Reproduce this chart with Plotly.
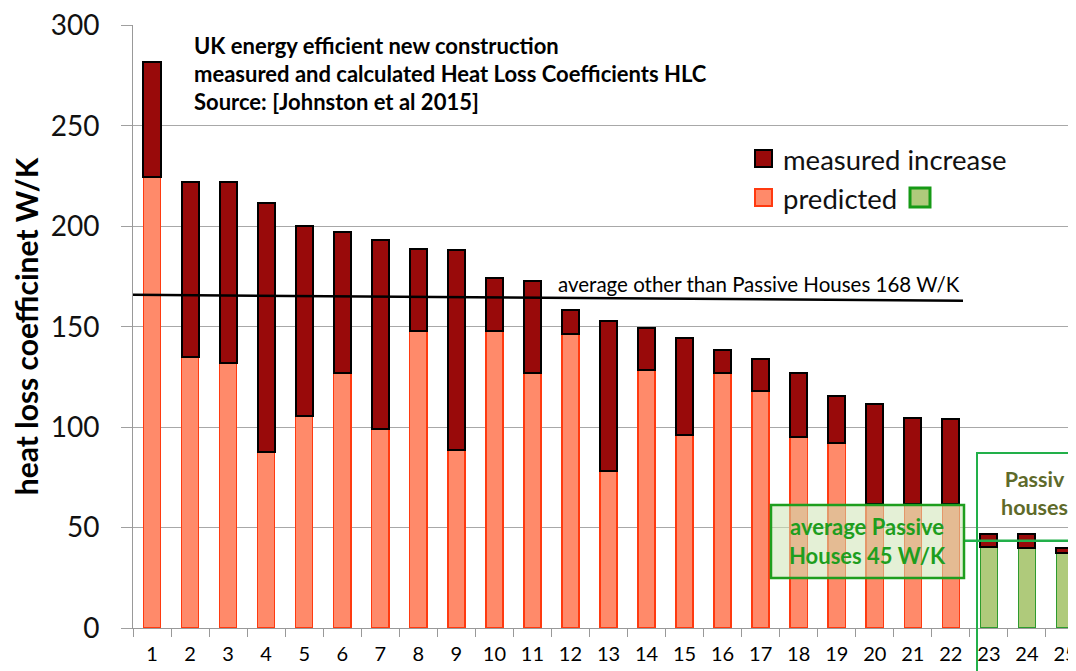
import plotly.graph_objects as go

categories = [str(i) for i in range(1, 26)]
total_measured = [281.7, 221.8, 221.8, 211.6, 200.1, 197.3, 193.3, 188.9, 188.4, 174.1,
                  173.0, 158.4, 153.0, 149.2, 144.2, 138.2, 133.8, 127.0, 115.6, 111.4,
                  104.6, 104.2, 47.0, 47.0, 39.7]
predicted = [224.3, 134.8, 131.8, 87.8, 105.5, 126.8, 99.0, 147.9, 88.6, 147.9,
             127.2, 146.4, 78.1, 128.5, 96.0, 127.2, 117.9, 95.0, 92.0, 61.9,
             61.9, 61.9, 40.4, 39.7, 37.4]
is_passive = [False] * 22 + [True] * 3
increase = [round(t - p, 1) for t, p in zip(total_measured, predicted)]
y_ticks = [0, 50, 100, 150, 200, 250, 300]

FONT = "Lato"
pred_fill = ["#AFCA7B" if p else "#FF8A6A" for p in is_passive]
pred_line = ["#2E9B2E" if p else "#FF3A10" for p in is_passive]

fig = go.Figure()
fig.add_trace(go.Bar(x=categories, y=predicted, name="predicted",
                     marker=dict(color=pred_fill, line=dict(color=pred_line, width=1.5))))
fig.add_trace(go.Bar(x=categories, y=increase, name="measured increase",
                     marker=dict(color="#990A0A", line=dict(color="#000000", width=2))))

# the page body adds an 8px offset; figure is sized to fill the window from there
OFF = 8
W, H = 1076 - OFF, 671 - OFF
PL, PT, PB = 133, 25, 628          # plot area in page pixels
L, T, B = PL - OFF, PT - OFF, (671 - PB)
pw, ph = 1076 - PL, PB - PT

def px(x):
    return (x - PL) / pw

def py(y):
    return (PB - y) / ph

shapes = []
annotations = []

# Title
for i, line in enumerate(["UK energy efficient new construction",
                          "measured and calculated Heat Loss Coefficients HLC",
                          "Source: [Johnston et al 2015]"]):
    annotations.append(dict(xref="paper", yref="paper", x=px(192), y=py(46 + 28 * i),
                            xanchor="left", yanchor="middle", showarrow=False,
                            text="<b>%s</b>" % line,
                            font=dict(family=FONT, size=22, color="#000000")))

# Legend
shapes.append(dict(type="rect", xref="paper", yref="paper", x0=px(755), x1=px(772), y0=py(167), y1=py(150),
                   fillcolor="#990A0A", line=dict(color="#000000", width=2)))
shapes.append(dict(type="rect", xref="paper", yref="paper", x0=px(755), x1=px(772), y0=py(206), y1=py(189),
                   fillcolor="#FF8A6A", line=dict(color="#FF3A10", width=2)))
shapes.append(dict(type="rect", xref="paper", yref="paper", x0=px(910), x1=px(930), y0=py(207), y1=py(188),
                   fillcolor="#AFCA7B", line=dict(color="#169A16", width=3)))
annotations.append(dict(xref="paper", yref="paper", x=px(781), y=py(159), xanchor="left", yanchor="middle",
                        showarrow=False, text="measured increase",
                        font=dict(family=FONT, size=27.5, color="#111111")))
annotations.append(dict(xref="paper", yref="paper", x=px(781), y=py(198), xanchor="left", yanchor="middle",
                        showarrow=False, text="predicted",
                        font=dict(family=FONT, size=27.5, color="#111111")))

# Average line (non passive)
shapes.append(dict(type="line", xref="x", yref="y", x0=-0.5, x1=21.32, y0=165.9, y1=162.9,
                   line=dict(color="#000000", width=2.5)))
annotations.append(dict(xref="paper", yref="paper", x=px(962), y=py(284), xanchor="right", yanchor="middle",
                        showarrow=False, text="average other than Passive Houses 168 W/K",
                        font=dict(family=FONT, size=20.5, color="#000000")))

# Passive houses box
shapes.append(dict(type="rect", xref="paper", yref="paper", x0=px(977), x1=1.05, y0=-0.2, y1=py(453),
                   fillcolor="rgba(0,0,0,0)", line=dict(color="#22B04A", width=2)))
annotations.append(dict(xref="paper", yref="paper", x=px(1034), y=py(493), xanchor="center", yanchor="middle",
                        showarrow=False, text="<b>Passiv<br>houses</b>",
                        font=dict(family=FONT, size=21.5, color="#5E6A2A")))

# Passive average line and box
shapes.append(dict(type="line", xref="paper", yref="y", x0=px(964), x1=1.0, y0=43.4, y1=43.4,
                   line=dict(color="#22B04A", width=2.5)))
shapes.append(dict(type="rect", xref="paper", yref="paper", x0=px(771), x1=px(964), y0=py(578), y1=py(505),
                   fillcolor="rgba(205,228,180,0.55)", line=dict(color="#1E9E1E", width=2.5)))
annotations.append(dict(xref="paper", yref="paper", x=px(867), y=py(541), xanchor="center", yanchor="middle",
                        showarrow=False, text="<b>average Passive<br>Houses 45 W/K</b>",
                        font=dict(family=FONT, size=22, color="#1E9E1E")))

fig.update_layout(
    barmode="stack",
    bargap=0.55,
    width=W, height=H,
    margin=dict(l=L, r=0, t=T, b=B, pad=0),
    plot_bgcolor="#FFFFFF", paper_bgcolor="#FFFFFF",
    showlegend=False,
    shapes=shapes,
    annotations=annotations,
    font=dict(family=FONT),
)
fig.update_xaxes(type="category", range=[-0.5, 24.29], tickson="boundaries",
                 ticks="outside", ticklen=8, tickcolor="#999999",
                 showline=True, linecolor="#999999", linewidth=1, ticklabelstandoff=8,
                 showgrid=False, tickfont=dict(family=FONT, size=20, color="#000000"))
fig.update_yaxes(range=[0, 300.2], tickvals=y_ticks, ticks="outside", ticklen=11, tickcolor="#A0A0A0",
                 showline=True, linecolor="#999999", linewidth=1, ticklabelstandoff=16,
                 ticklabeloverflow="allow",
                 showgrid=True, gridcolor="#A8A8A8", gridwidth=1, zeroline=False,
                 tickfont=dict(family=FONT, size=28, color="#111111"),
                 title=dict(text="<b>heat loss coefficinet W/K</b>", standoff=10,
                            font=dict(family=FONT, size=30, color="#000000")))

fig.write_html("out.html")
